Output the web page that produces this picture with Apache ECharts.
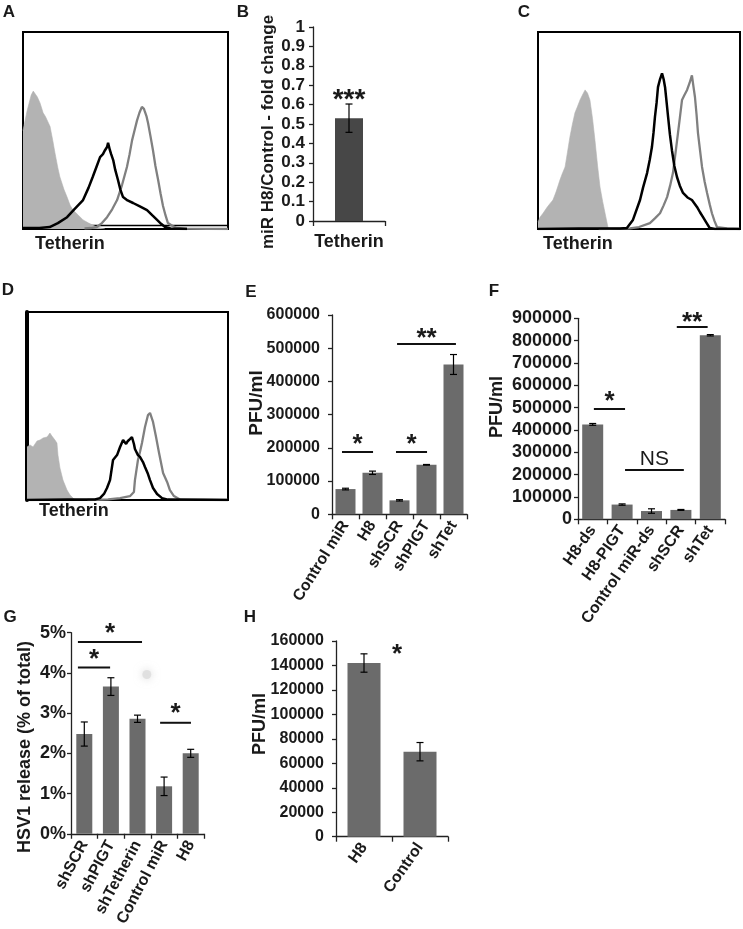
<!DOCTYPE html>
<html><head><meta charset="utf-8">
<script src="https://cdn.jsdelivr.net/npm/echarts/dist/echarts.min.js"></script>
<style>html,body{margin:0;padding:0;background:#fff}#c{width:743px;height:929px}</style>
</head><body><div id="c"></div>
<script>
const FONT = '"Liberation Sans", Arial, Helvetica, sans-serif';
const TXT = '#1a1a1a';

// ---------- Flow cytometry histograms (x: % of channel range, y: % of max counts) ----------
const histA_isotype = [[0,50],[1,55],[2,60],[3,64],[4,68],[5,70],[5.9,71],[7,67],[8.3,64],[9.8,59],[11,57],[13.2,52],[14.5,45],[15.6,38.6],[17,31],[18,26.4],[20,20],[21.5,16.2],[23,12],[24.4,9.6],[27,7],[29.3,4.6],[32,3],[36,1],[40,0]];
const histA_black = [[0,0.5],[8,0.5],[13,1],[17,3],[21.5,6],[25,10],[29.3,14.7],[32,21],[34,26.4],[36,32],[37.6,36.5],[39,38],[40,40],[41,41.6],[41.5,43.7],[42.4,40],[43,38],[44,35],[45,30],[46.3,25],[47.5,20],[48.8,16.2],[51,14.5],[53.7,13.2],[57,11.5],[60.5,9.6],[63,7],[65.4,4.6],[67.5,2.5],[69.3,1],[72,0.3],[80,0]];
const histA_gray = [[30,0.3],[33,0.5],[36,1],[38.5,3],[41,6],[43.5,10],[45.9,14.7],[48.3,22.3],[50.7,31.5],[52,38],[53.2,45],[54.4,50],[55.6,55],[56.8,59],[58,62],[59,61],[59.5,59.4],[60.3,57],[61,53.8],[62.2,47],[63.4,40],[64.6,32],[65.9,25],[67.1,18],[68.3,11.7],[69.5,7],[70.7,3],[73,1.5],[75,0.5],[80,0.2],[100,0]];

const histC_isotype = [[0,3.5],[1,6],[2.5,8],[4.5,11],[6,13],[7.4,14.7],[9,19],[10.9,25],[12,28],[13.4,31.5],[14.6,39],[15.8,46.7],[17,53],[18.3,59],[19.5,62],[20.8,65.5],[22,68],[23.3,70.6],[24.5,69],[25.7,65.5],[27,56],[28.2,45],[29.5,32],[30.7,21.3],[32,14],[33.2,8],[34.7,0.5],[36.6,0]];
const histC_black = [[0,0],[20,0.3],[40.6,0.3],[44,0.5],[47,4.6],[50.5,14.7],[52,21],[54,28.4],[55.3,35],[56.4,41.6],[57.2,49],[57.9,56.9],[58.7,64],[59.4,72],[60.4,76],[61.4,79],[62.2,76],[62.9,72],[63.7,64],[64.4,56.9],[65.3,48],[66.3,40],[67.5,32],[68.8,26.4],[70.2,22],[71.8,18.3],[74,16],[76.2,14.7],[78.7,11.2],[80.2,8.5],[81.7,6],[83.5,3],[85,0.5],[87.6,0],[100,0]];
const histC_gray = [[30,0],[45.5,0.3],[50,1],[55.4,3],[58,5.5],[60.4,8],[62.2,12],[63.9,16.2],[65.4,22],[66.8,28.4],[68,38],[69.3,48.7],[70.3,57],[71.3,65.5],[72.5,68],[73.8,70.6],[75,74],[76.2,78],[77,72],[77.7,67],[78.5,58],[79.2,48.7],[80.2,40],[81.2,31.5],[82.5,24],[83.7,18.3],[85,12.5],[86.1,8],[87.4,4],[88.6,1],[93.6,0.3],[100,0]];

const histD_isotype = [[0,28.2],[1.5,29.3],[3,28.2],[5,31.4],[6.5,31.9],[8,33],[10,33.5],[11.4,35.6],[12.4,34],[13.9,31.9],[14.9,30.3],[15.4,23.9],[16.4,17],[17.9,10.6],[19.9,5.3],[21.4,2.7],[23.4,0.5],[25.4,0]];
const histD_black = [[0,0],[20,0.2],[33.8,0.3],[36.3,1],[38.3,3.2],[39.8,6.4],[41.3,10.6],[42.8,21.3],[44.8,23.9],[46.3,28.2],[47.8,31.9],[49.3,29.8],[50.2,31.4],[51.2,32.4],[52.2,33.5],[53.2,29.8],[53.7,27.1],[55.2,23.9],[56.2,22.9],[57.7,20.2],[58.7,17.6],[60.2,13.8],[61.2,10.6],[62.7,6.4],[64.7,3.2],[67.2,1],[70.1,0.2],[100,0]];
const histD_gray = [[30,0],[40.3,0.3],[46.3,1],[51.2,2],[53.2,4.3],[53.7,10.6],[55.2,21.3],[56.2,25.5],[57.2,30.3],[58.7,38.8],[60.2,45.2],[61.2,46.3],[62.7,41.5],[64.2,33.5],[65.7,25],[67.7,14.4],[69.7,9.6],[71.1,5.3],[73.1,2.1],[76.1,0.3],[100,0]];

// ---------- Bar panels ----------
const catB = ['Tetherin'];
const valB = [0.53];
const errB = [0.073];
const sigB = [{xt:0, ty:0.624, text:'***', size:28}];

const catE = ['Control miR','H8','shSCR','shPIGT','shTet'];
const valE = [76000,125000,42000,149000,451000];
const errE = [2500,5000,2000,1000,30000];
const sigE = [
  {x1:-0.13, x2:1.02, y:187500, ty:208600, text:'*', size:26},
  {x1:1.87, x2:3.02, y:187500, ty:208600, text:'*', size:26},
  {x1:1.91, x2:4.09, y:512700, ty:529300, text:'**', size:26}
];

const catF = ['H8-ds','H8-PIGT','Control miR-ds','shSCR','shTet'];
const valF = [425000,66000,37000,42000,824000];
const errF = [4000,3000,10000,2000,3000];
const sigF = [
  {x1:0.04, x2:1.1, y:493900, ty:525200, text:'*', size:26},
  {x1:1.1, x2:3.1, y:220700, ty:268600, text:'NS', size:21, normal:true},
  {x1:2.86, x2:3.91, y:861000, ty:879000, text:'**', size:26}
];

const catG = ['shSCR','shPIGT','shTetherin','Control miR','H8'];
const valG = [2.48,3.66,2.86,1.18,2.0];
const errG = [0.3,0.22,0.09,0.23,0.1];
const sigG = [
  {x1:-0.24, x2:0.97, y:4.135, ty:4.33, text:'*', size:26},
  {x1:-0.24, x2:2.17, y:4.77, ty:4.98, text:'*', size:26},
  {x1:2.85, x2:4.01, y:2.76, ty:2.98, text:'*', size:26}
];
const artifactG = [[2.35,3.96]];

const catH = ['H8','Control'];
const valH = [142000,69500];
const errH = [7500,7500];
const sigH = [{xt:0.59, ty:148600, text:'*', size:26}];

// ---------- builders ----------
const grids = [], xAxis = [], yAxis = [], series = [], graphics = [];

function addHist(rect, iso, black, gray, opt) {
  opt = opt || {};
  const gi = grids.length;
  grids.push({left:rect[0], top:rect[1], width:rect[2], height:rect[3], show:true, borderColor:'#000', borderWidth:2, backgroundColor:'transparent'});
  const xi = xAxis.length, yi = yAxis.length;
  xAxis.push({type:'value', gridIndex:gi, min:0, max:100, show:!!opt.doubleBottom, offset:-4,
    axisLine:{show:true, onZero:false, lineStyle:{color:'#000', width:1.3}}, axisTick:{show:false}, axisLabel:{show:false}, splitLine:{show:false}});
  yAxis.push({type:'value', gridIndex:gi, min:0, max:100, show:!!opt.thickLeft,
    axisLine:{show:true, onZero:false, lineStyle:{color:'#000', width:4}}, axisTick:{show:false}, axisLabel:{show:false}, splitLine:{show:false}});
  const base = {type:'line', xAxisIndex:xi, yAxisIndex:yi, showSymbol:false, symbol:'none', silent:true, animation:false};
  series.push(Object.assign({}, base, {data:iso, lineStyle:{width:0.6, color:'#b3b3b3'}, areaStyle:{color:'#b3b3b3', opacity:1}, z:1}));
  series.push(Object.assign({}, base, {data:gray, lineStyle:{width:2.3, color:'#808080'}, z:2}));
  series.push(Object.assign({}, base, {data:black, lineStyle:{width:2.5, color:'#000'}, z:3}));
}

function errRender(params, api) {
  const i = api.value(0), v = api.value(1), e = api.value(2);
  const t = api.coord([i, v + e]), b = api.coord([i, v - e]);
  const w = 3.5;
  const st = {stroke:'#000', lineWidth:1.2};
  return {type:'group', children:[
    {type:'line', shape:{x1:t[0], y1:t[1], x2:b[0], y2:b[1]}, style:st},
    {type:'line', shape:{x1:t[0]-w, y1:t[1], x2:t[0]+w, y2:t[1]}, style:st},
    {type:'line', shape:{x1:b[0]-w, y1:b[1], x2:b[0]+w, y2:b[1]}, style:st}
  ]};
}

function makeSigRender(sigs) {
  return function (params, api) {
    const s = sigs[params.dataIndex];
    const children = [];
    if (s.x1 != null) {
      const a = api.coord([s.x1, s.y]), b = api.coord([s.x2, s.y]);
      children.push({type:'line', shape:{x1:a[0], y1:a[1], x2:b[0], y2:b[1]}, style:{stroke:'#111', lineWidth:2}});
    }
    const xt = s.xt != null ? s.xt : (s.x1 + s.x2) / 2;
    const p = api.coord([xt, s.ty]);
    children.push({type:'text', x:p[0], y:p[1], style:{text:s.text, fill:TXT,
      font:(s.normal ? '' : 'bold ') + s.size + 'px ' + FONT,
      align:'center', verticalAlign:'middle', textAlign:'center', textVerticalAlign:'middle'}});
    return {type:'group', children:children};
  };
}

function addBar(rect, cats, vals, errs, c) {
  const gi = grids.length;
  grids.push({left:rect[0], top:rect[1], width:rect[2], height:rect[3], show:false});
  const xc = xAxis.length;
  xAxis.push({type:'category', gridIndex:gi, data:cats, boundaryGap:true,
    axisLine:{show:true, onZero:false, lineStyle:{color:'#222', width:1.3}},
    axisTick:{show:true, alignWithLabel:false, interval:0, length:5, lineStyle:{color:'#222', width:1.3}},
    axisLabel:{interval:0, rotate:c.rotate, margin:c.xMargin, fontSize:c.xLabelSize, fontWeight:'bold', color:TXT, fontFamily:FONT},
    splitLine:{show:false}});
  const xv = xAxis.length;
  xAxis.push({type:'value', gridIndex:gi, min:-0.5, max:cats.length - 0.5, show:false,
    axisLine:{onZero:false}, splitLine:{show:false}});
  const yi = yAxis.length;
  yAxis.push({type:'value', gridIndex:gi, min:c.min, max:c.max, interval:c.interval,
    axisLine:{show:true, onZero:false, lineStyle:{color:'#222', width:1.3}},
    axisTick:{show:true, length:4, lineStyle:{color:'#222', width:1.3}},
    axisLabel:{formatter:c.fmt, fontSize:c.yLabelSize, fontWeight:'bold', color:TXT, fontFamily:FONT, margin:c.yMargin},
    splitLine:{show:false}});
  series.push({type:'bar', xAxisIndex:xc, yAxisIndex:yi, data:vals, barWidth:c.barWidth,
    itemStyle:{color:c.barColor}, animation:false, silent:true});
  series.push({type:'custom', xAxisIndex:xc, yAxisIndex:yi, data:vals.map((v,i)=>[i, v, errs[i]]),
    encode:{x:0, y:1}, renderItem:errRender, z:5, animation:false, silent:true});
  if (c.sigs) {
    series.push({type:'custom', xAxisIndex:xv, yAxisIndex:yi, clip:false,
      data:c.sigs.map(s=>[s.xt != null ? s.xt : (s.x1 + s.x2) / 2, s.ty]),
      encode:{x:0, y:1}, renderItem:makeSigRender(c.sigs), z:6, animation:false, silent:true});
  }
  if (c.artifact) {
    series.push({type:'scatter', xAxisIndex:xv, yAxisIndex:yi, data:c.artifact, symbolSize:9,
      itemStyle:{color:'rgba(215,215,215,0.8)', shadowBlur:8, shadowColor:'rgba(190,190,190,0.9)'}, z:0, animation:false, silent:true});
  }
}

const intFmt = v => String(v);

// Histograms
addHist([23, 32, 205, 197], histA_isotype, histA_black, histA_gray, {doubleBottom:true});
addHist([538, 32, 202, 197], histC_isotype, histC_black, histC_gray, {});
addHist([27, 312, 201, 188], histD_isotype, histD_black, histD_gray, {thickLeft:true});

// Bars
addBar([313, 27, 72, 194], catB, valB, errB, {min:0, max:1, interval:0.1, fmt:v=>String(Math.round(v*10)/10),
  rotate:0, xMargin:12, xLabelSize:18, yLabelSize:17, yMargin:8, barWidth:28, barColor:'#474747', sigs:sigB});
addBar([332, 315, 135, 199.3], catE, valE, errE, {min:0, max:600000, interval:100000, fmt:intFmt,
  rotate:58, xMargin:8, xLabelSize:16, yLabelSize:16, yMargin:12, barWidth:20, barColor:'#6b6b6b', sigs:sigE});
addBar([578, 318.3, 147, 201], catF, valF, errF, {min:0, max:900000, interval:100000, fmt:intFmt,
  rotate:55, xMargin:8, xLabelSize:16, yLabelSize:18, yMargin:6, barWidth:21, barColor:'#6b6b6b', sigs:sigF});
addBar([71, 632.7, 133, 204], catG, valG, errG, {min:0, max:5, interval:1, fmt:v=>v + '%',
  rotate:62, xMargin:8, xLabelSize:16, yLabelSize:18, yMargin:5, barWidth:16, barColor:'#6b6b6b', sigs:sigG, artifact:artifactG});
addBar([336, 641, 112, 195.7], catH, valH, errH, {min:0, max:160000, interval:20000, fmt:intFmt,
  rotate:55, xMargin:8, xLabelSize:16, yLabelSize:16, yMargin:12, barWidth:33, barColor:'#6b6b6b', sigs:sigH});

// ---------- text annotations ----------
function txt(x, y, s, size, opts) {
  opts = opts || {};
  graphics.push({type:'text', x:x, y:y, rotation:opts.rot || 0, silent:true,
    style:{text:s, fill:TXT, font:(opts.normal ? '' : 'bold ') + size + 'px ' + FONT,
      align:opts.align || 'center', verticalAlign:'middle', textAlign:opts.align || 'center', textVerticalAlign:'middle'}});
}
const panelLetters = [['A',9,12],['B',243,12],['C',524,12],['D',8,290],['E',251,292],['F',494,291],['G',10,617],['H',250,617]];
panelLetters.forEach(p => txt(p[1], p[2], p[0], 17));
txt(35, 244, 'Tetherin', 18, {align:'left'});
txt(543, 244, 'Tetherin', 18, {align:'left'});
txt(39, 511, 'Tetherin', 18, {align:'left'});
txt(268, 132, 'miR H8/Control - fold change', 17, {rot:Math.PI/2});
txt(257, 403, 'PFU/ml', 19, {rot:Math.PI/2});
txt(497, 407, 'PFU/ml', 18, {rot:Math.PI/2});
txt(25, 747, 'HSV1 release (% of total)', 18, {rot:Math.PI/2});
txt(260, 724, 'PFU/ml', 18, {rot:Math.PI/2});

const chart = echarts.init(document.getElementById('c'), null, {renderer:'canvas'});
chart.setOption({
  backgroundColor:'#ffffff',
  animation:false,
  textStyle:{fontFamily:FONT},
  grid:grids, xAxis:xAxis, yAxis:yAxis, series:series,
  graphic:{elements:graphics}
});
</script></body></html>
